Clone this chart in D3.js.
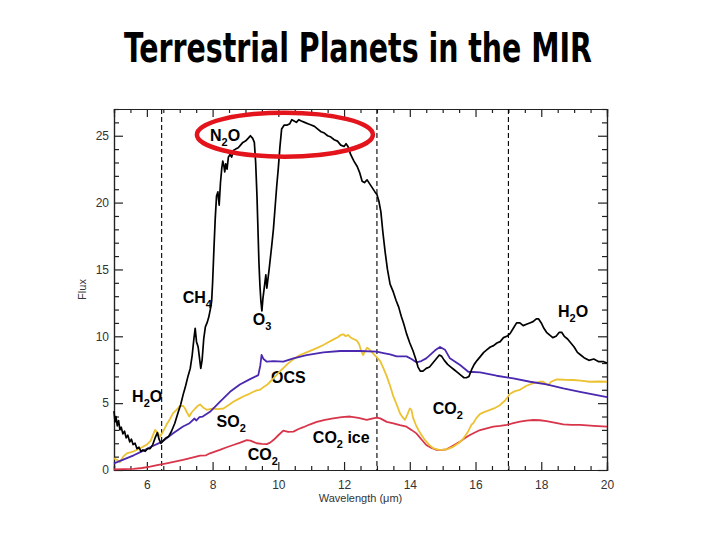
<!DOCTYPE html>
<html>
<head>
<meta charset="utf-8">
<script src="https://cdn.jsdelivr.net/npm/d3@7"></script>
<style>
  html, body { margin: 0; padding: 0; background: #fff; }
  svg { display: block; }
</style>
</head>
<body>
<svg id="chart" width="720" height="540"></svg>
<script>
// ---------------- DATA ----------------
const chartTitle = "Terrestrial Planets in the MIR";
const xLabel = "Wavelength (\u03bcm)";
const yLabel = "Flux";
const xMajorTicks = [6, 8, 10, 12, 14, 16, 18, 20];
const yMajorTicks = [0, 5, 10, 15, 20, 25];
const dashedWavelengths = [6.45, 13, 17];

// Earth (black)
const earthWavelength = [5.00,5.03,5.06,5.10,5.14,5.18,5.22,5.27,5.32,5.37,5.42,5.48,5.53,5.58,5.64,5.70,5.76,5.82,5.88,5.95,6.02,6.10,6.18,6.25,6.32,6.37,6.43,6.50,6.58,6.66,6.75,6.85,6.95,7.03,7.10,7.18,7.25,7.32,7.38,7.43,7.47,7.51,7.56,7.60,7.64,7.68,7.73,7.78,7.83,7.88,7.93,7.97,8.00,8.04,8.08,8.12,8.16,8.20,8.24,8.28,8.31,8.34,8.37,8.40,8.44,8.48,8.53,8.58,8.63,8.70,8.78,8.85,8.92,9.00,9.08,9.15,9.22,9.27,9.31,9.35,9.38,9.41,9.44,9.47,9.50,9.53,9.56,9.59,9.62,9.65,9.68,9.72,9.76,9.80,9.85,9.90,9.95,10.00,10.05,10.10,10.18,10.27,10.35,10.41,10.48,10.55,10.62,10.70,10.80,10.90,11.00,11.10,11.20,11.30,11.40,11.50,11.60,11.70,11.80,11.90,12.00,12.06,12.12,12.20,12.30,12.40,12.48,12.55,12.62,12.70,12.78,12.86,12.94,13.00,13.06,13.12,13.18,13.25,13.32,13.40,13.50,13.58,13.66,13.74,13.82,13.90,14.00,14.10,14.18,14.25,14.32,14.40,14.50,14.60,14.70,14.80,14.90,14.97,15.05,15.15,15.25,15.35,15.45,15.55,15.65,15.72,15.80,15.88,15.96,16.05,16.15,16.25,16.35,16.45,16.55,16.65,16.75,16.85,16.95,17.05,17.15,17.25,17.35,17.45,17.55,17.65,17.75,17.85,17.92,18.00,18.08,18.16,18.25,18.35,18.45,18.55,18.62,18.70,18.80,18.90,19.00,19.10,19.20,19.30,19.45,19.60,19.75,19.90,20.00];
const earthFlux = [4.4,3.6,4.0,3.3,3.7,3.0,3.2,2.7,2.9,2.4,2.6,2.1,2.3,1.9,2.0,1.6,1.7,1.4,1.5,1.4,1.6,1.6,1.9,2.4,2.8,2.3,2.0,2.2,2.4,2.5,2.9,3.5,4.3,4.9,5.6,6.3,7.0,7.6,8.6,9.8,10.6,9.6,9.2,8.4,7.6,8.2,9.8,10.7,11.0,11.4,12.0,12.6,14.0,16.5,18.8,20.5,20.8,19.8,21.5,22.6,23.1,22.8,22.3,22.9,22.5,23.4,23.6,23.4,23.9,24.0,24.1,24.3,24.5,24.6,24.8,25.0,24.8,24.5,23.0,20.5,18.0,15.5,13.8,12.6,11.9,12.8,13.4,14.0,14.6,13.6,14.2,15.0,15.9,16.8,18.0,19.6,21.2,22.6,24.2,25.5,25.8,25.8,25.9,26.2,26.1,26.0,26.2,26.1,26.0,25.9,25.8,25.7,25.5,25.3,25.2,25.0,24.9,24.7,24.6,24.3,24.2,24.4,24.2,23.6,23.1,22.7,22.2,21.6,21.5,21.7,21.4,21.1,20.8,20.6,20.1,19.3,17.8,16.3,15.0,13.9,13.3,12.7,12.2,11.5,10.9,10.2,9.5,8.9,8.3,7.7,7.4,7.4,7.6,7.7,8.0,8.3,8.6,8.5,8.2,7.9,7.7,7.5,7.3,7.1,6.9,6.9,7.0,7.5,7.9,8.2,8.5,8.8,9.0,9.2,9.3,9.5,9.6,9.9,10.0,10.2,10.6,11.0,11.0,10.8,10.9,11.0,11.1,11.3,11.3,11.0,10.6,10.3,10.1,9.9,10.0,10.3,10.3,10.0,9.8,9.5,9.2,8.8,8.6,8.4,8.2,8.3,8.1,8.1,8.0];

// Venus-like (purple)
const purpleWavelength = [5.0,5.3,5.6,5.9,6.1,6.45,6.8,7.1,7.3,7.45,7.5,7.6,7.7,7.92,8.22,8.53,8.83,9.14,9.39,9.45,9.49,9.55,9.65,9.85,10.15,10.46,10.86,11.37,11.88,12.48,12.99,13.2,13.4,13.6,13.9,14.05,14.2,14.35,14.5,14.77,14.92,15.07,15.22,15.38,15.53,15.78,16.14,16.64,17.15,17.66,18.16,18.67,19.18,19.69,20.0];
const purpleFlux = [0.5,0.8,1.1,1.45,1.7,2.1,2.75,3.25,3.5,3.85,3.7,3.95,4.0,4.35,5.1,5.85,6.4,6.8,7.1,7.8,8.6,8.3,8.1,8.15,8.1,8.35,8.6,8.8,8.9,8.9,8.85,8.75,8.65,8.5,8.5,8.3,8.05,8.15,8.35,8.95,9.2,9.0,8.35,8.1,7.85,7.35,7.3,7.05,6.85,6.6,6.4,6.1,5.85,5.6,5.45];

// Yellow
const yellowWavelength = [5.0,5.1,5.18,5.28,5.39,5.55,5.69,5.85,6.0,6.12,6.2,6.25,6.32,6.4,6.5,6.6,6.7,6.8,6.9,7.0,7.1,7.16,7.22,7.29,7.36,7.47,7.55,7.62,7.7,7.82,7.92,8.02,8.15,8.33,8.48,8.63,8.78,8.93,9.08,9.24,9.34,9.44,9.55,9.65,9.75,9.85,9.98,10.1,10.23,10.36,10.5,10.66,10.86,11.06,11.2,11.37,11.52,11.67,11.82,11.9,11.98,12.05,12.12,12.18,12.28,12.38,12.46,12.52,12.58,12.64,12.7,12.76,12.85,12.99,13.1,13.2,13.3,13.4,13.5,13.6,13.7,13.78,13.85,13.92,14.0,14.05,14.1,14.18,14.26,14.36,14.46,14.58,14.72,14.87,15.02,15.17,15.33,15.48,15.63,15.78,15.88,15.93,16.03,16.14,16.28,16.44,16.6,16.74,16.9,17.05,17.2,17.35,17.55,17.76,17.95,18.06,18.14,18.21,18.3,18.47,18.7,18.97,19.2,19.48,19.75,20.0];
const yellowFlux = [0.87,0.75,0.58,1.0,1.25,1.35,1.5,1.7,1.9,2.2,2.7,3.0,2.8,2.5,2.9,3.4,3.8,4.25,4.5,4.75,4.8,4.6,4.3,4.0,4.3,4.6,4.8,4.9,4.7,4.5,4.55,4.6,4.55,4.6,4.85,5.1,5.3,5.5,5.65,5.85,5.95,6.0,6.2,6.35,6.6,6.85,7.2,7.5,7.8,8.1,8.35,8.6,8.8,9.0,9.15,9.35,9.55,9.75,9.95,10.1,10.15,10.0,10.1,9.95,9.8,9.7,9.4,8.9,8.6,8.9,9.15,9.05,8.8,8.45,8.15,7.6,7.0,6.3,5.5,4.9,4.25,3.95,3.75,4.1,4.6,4.5,3.9,3.4,3.0,2.6,2.25,1.9,1.62,1.52,1.5,1.58,1.75,2.0,2.35,2.9,3.4,3.5,3.9,4.2,4.35,4.5,4.65,4.85,5.2,5.7,5.9,6.0,6.3,6.5,6.6,6.6,6.45,6.35,6.6,6.78,6.75,6.73,6.68,6.6,6.62,6.6];

// Mars-like (red)
const redWavelength = [5.0,5.3,5.59,5.85,6.1,6.35,6.6,6.85,7.1,7.35,7.62,7.8,7.92,8.22,8.43,8.63,8.84,9.04,9.15,9.34,9.5,9.65,9.75,9.85,10.0,10.15,10.3,10.46,10.6,10.76,10.95,11.17,11.42,11.67,11.93,12.18,12.44,12.69,12.85,12.99,13.1,13.3,13.5,13.7,13.9,14.05,14.2,14.35,14.5,14.66,14.82,14.97,15.12,15.3,15.53,15.68,15.83,15.98,16.14,16.34,16.54,16.75,16.95,17.15,17.35,17.55,17.76,17.96,18.16,18.4,18.67,18.92,19.18,19.6,20.0];
const redFlux = [0.05,0.06,0.08,0.15,0.25,0.38,0.5,0.62,0.75,0.9,1.07,1.1,1.25,1.5,1.7,1.87,2.05,2.24,2.2,2.0,1.95,1.94,2.05,2.24,2.6,2.95,2.85,2.87,3.05,3.2,3.4,3.6,3.75,3.86,3.95,4.0,3.9,3.75,3.85,3.92,3.86,3.6,3.49,3.35,3.24,3.0,2.74,2.3,1.87,1.65,1.5,1.5,1.55,1.8,2.12,2.4,2.62,2.8,2.99,3.12,3.24,3.3,3.37,3.5,3.61,3.7,3.74,3.72,3.66,3.55,3.41,3.38,3.37,3.3,3.24];

// Annotations: main text, subscript, trailing text, wavelength, flux
const annotationText = ["N", "CH", "O", "H", "OCS", "H", "SO", "CO", "CO", "CO"];
const annotationSub  = ["2", "4", "3", "2", "", "2", "2", "2", "2", "2"];
const annotationTail = ["O", "", "", "O", "", "O", "", "", " ice", ""];
const annotationWl   = [7.92, 7.09, 9.22, 18.51, 9.78, 5.55, 8.12, 9.07, 11.05, 14.7];
const annotationFlux = [24.6, 12.5, 10.85, 11.44, 6.5, 5.1, 3.24, 0.75, 2.02, 4.19];

// Highlighted region (red ellipse) centre in data units
const highlightCentre = [10.2, 25.08];

// ---------------- DRAWING ----------------
(function () {
const svg = d3.select("#chart");
const pLeft = 114, pRight = 607, pTop = 109, pBottom = 470;

const x = d3.scaleLinear().domain([5, 20]).range([pLeft, pRight]);
const y = d3.scaleLinear().domain([0, 27]).range([pBottom, pTop]);

const axisColor = "#222";
const minorX = d3.range(5, 20.01, 0.5).filter(v => xMajorTicks.indexOf(v) < 0);
const minorY = d3.range(0, 27.01, 1).filter(v => yMajorTicks.indexOf(v) < 0);

function styleAxis(g) {
  g.selectAll("path.domain").attr("stroke", axisColor).attr("stroke-width", 1.2);
  g.selectAll(".tick line").attr("stroke", axisColor).attr("stroke-width", 1.2);
  g.selectAll(".tick text").attr("fill", "#333")
    .style("font-family", "Liberation Sans, Arial, sans-serif").style("font-size", "12px");
}

svg.append("g").attr("transform", `translate(0,${pBottom})`)
  .call(d3.axisBottom(x).tickValues(xMajorTicks).tickSize(-8).tickPadding(10).tickFormat(d3.format("d")))
  .call(styleAxis);
svg.append("g").attr("transform", `translate(0,${pBottom})`)
  .call(d3.axisBottom(x).tickValues(minorX).tickSize(-4).tickFormat(""))
  .call(styleAxis);
svg.append("g").attr("transform", `translate(0,${pTop})`)
  .call(d3.axisTop(x).tickValues(xMajorTicks).tickSize(-8).tickFormat(""))
  .call(styleAxis);
svg.append("g").attr("transform", `translate(0,${pTop})`)
  .call(d3.axisTop(x).tickValues(minorX).tickSize(-4).tickFormat(""))
  .call(styleAxis);
svg.append("g").attr("transform", `translate(${pLeft},0)`)
  .call(d3.axisLeft(y).tickValues(yMajorTicks).tickSize(-9).tickPadding(5).tickFormat(d3.format("d")))
  .call(styleAxis);
svg.append("g").attr("transform", `translate(${pLeft},0)`)
  .call(d3.axisLeft(y).tickValues(minorY).tickSize(-5).tickFormat(""))
  .call(styleAxis);
svg.append("g").attr("transform", `translate(${pRight},0)`)
  .call(d3.axisRight(y).tickValues(yMajorTicks).tickSize(-9).tickFormat(""))
  .call(styleAxis);
svg.append("g").attr("transform", `translate(${pRight},0)`)
  .call(d3.axisRight(y).tickValues(minorY).tickSize(-5).tickFormat(""))
  .call(styleAxis);

svg.append("text")
  .attr("transform", `translate(86,${(pTop + pBottom) / 2}) rotate(-90)`)
  .attr("text-anchor", "middle")
  .style("font-family", "Liberation Sans, Arial, sans-serif").style("font-size", "11px")
  .attr("fill", "#333").text(yLabel);
svg.append("text")
  .attr("x", (pLeft + pRight) / 2).attr("y", 502)
  .attr("text-anchor", "middle")
  .style("font-family", "Liberation Sans, Arial, sans-serif").style("font-size", "11px")
  .attr("fill", "#333").text(xLabel);

svg.append("g").selectAll("line").data(dashedWavelengths).join("line")
  .attr("x1", d => x(d)).attr("x2", d => x(d))
  .attr("y1", pTop).attr("y2", pBottom)
  .attr("stroke", "#000").attr("stroke-width", 1.1).attr("stroke-dasharray", "5,3");

const ann = svg.append("g")
  .style("font-family", "Liberation Sans, Arial, sans-serif")
  .style("font-weight", "bold").style("font-size", "16px").attr("fill", "#000");
annotationText.forEach((t, i) => {
  const txt = ann.append("text").attr("x", x(annotationWl[i])).attr("y", y(annotationFlux[i]));
  txt.append("tspan").text(t);
  if (annotationSub[i]) {
    txt.append("tspan").attr("dy", 5).style("font-size", "11px").text(annotationSub[i]);
    if (annotationTail[i]) txt.append("tspan").attr("dy", -5).text(annotationTail[i]);
  } else if (annotationTail[i]) {
    txt.append("tspan").text(annotationTail[i]);
  }
});

function series(wl, fl) { return wl.map((w, i) => [w, fl[i]]); }
const line = d3.line().x(d => x(d[0])).y(d => y(d[1]));
const seriesList = [
  { data: series(redWavelength, redFlux), color: "#d8344a", width: 1.8 },
  { data: series(yellowWavelength, yellowFlux), color: "#ecc232", width: 1.8 },
  { data: series(purpleWavelength, purpleFlux), color: "#4a28b0", width: 1.8 },
  { data: series(earthWavelength, earthFlux), color: "#000000", width: 1.7 }
];
svg.append("g").selectAll("path").data(seriesList).join("path")
  .attr("d", d => line(d.data))
  .attr("fill", "none")
  .attr("stroke", d => d.color)
  .attr("stroke-width", d => d.width)
  .attr("stroke-linejoin", "round");

svg.append("ellipse")
  .attr("cx", x(highlightCentre[0])).attr("cy", y(highlightCentre[1]))
  .attr("rx", 88).attr("ry", 22)
  .attr("fill", "none").attr("stroke", "#e3141c").attr("stroke-width", 4.5);

svg.append("text")
  .attr("x", 358).attr("y", 62)
  .attr("text-anchor", "middle")
  .attr("textLength", 468).attr("lengthAdjust", "spacingAndGlyphs")
  .style("font-family", "DejaVu Sans Condensed, DejaVu Sans, sans-serif")
  .style("font-weight", "bold").style("font-size", "40px")
  .attr("fill", "#000").text(chartTitle);
})();
</script>
</body>
</html>
